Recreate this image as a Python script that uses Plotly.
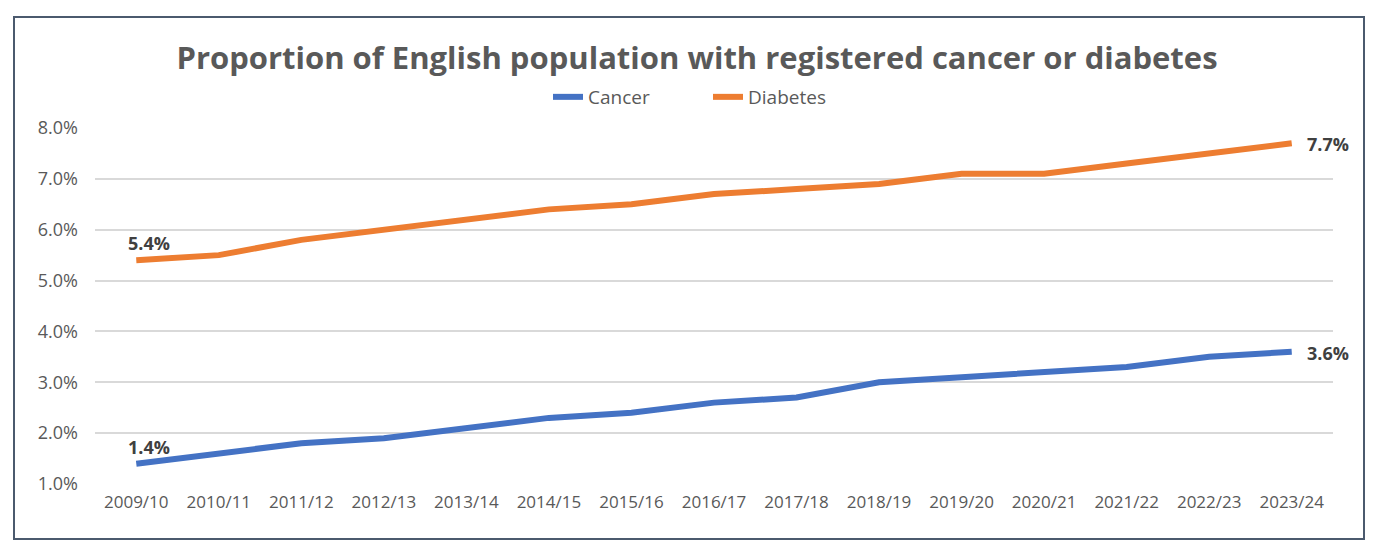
import plotly.graph_objects as go

years = ["2009/10", "2010/11", "2011/12", "2012/13", "2013/14", "2014/15", "2015/16",
         "2016/17", "2017/18", "2018/19", "2019/20", "2020/21", "2021/22", "2022/23", "2023/24"]
cancer = [1.4, 1.6, 1.8, 1.9, 2.1, 2.3, 2.4, 2.6, 2.7, 3.0, 3.1, 3.2, 3.3, 3.5, 3.6]
diabetes = [5.4, 5.5, 5.8, 6.0, 6.2, 6.4, 6.5, 6.7, 6.8, 6.9, 7.1, 7.1, 7.3, 7.5, 7.7]
y_ticks = [1, 2, 3, 4, 5, 6, 7, 8]
y_tick_labels = [f"{v:.1f}%" for v in y_ticks]

FONT = "Open Sans"
LABEL_COLOR = "#404040"
TEXT_COLOR = "#595959"

# The page body has an 8px margin, so the figure is drawn 8px right/down.
L, T = 87, 120
PW, PH = 1238, 356
W, H = 1378, 553

fig = go.Figure()
series = [("Cancer", cancer, "#4472C4"), ("Diabetes", diabetes, "#ED7D31")]
for name, vals, color in series:
    fig.add_trace(go.Scatter(
        x=years, y=vals, name=name, mode="lines",
        line=dict(color=color, width=6),
    ))
    # first-value label, above and slightly right of the first point
    fig.add_annotation(x=years[0], y=vals[0], text=f"<b>{vals[0]:.1f}%</b>",
                       showarrow=False, xanchor="center", yanchor="middle",
                       xshift=13, yshift=17,
                       font=dict(family=FONT, size=18, color=LABEL_COLOR))
    # last-value label, to the right of the last point
    fig.add_annotation(x=years[-1], y=vals[-1], text=f"<b>{vals[-1]:.1f}%</b>",
                       showarrow=False, xanchor="left", yanchor="middle",
                       xshift=13, yshift=-1,
                       font=dict(family=FONT, size=18, color=LABEL_COLOR))

fig.update_layout(
    width=W, height=H,
    margin=dict(l=L, r=W - L - PW, t=T, b=H - T - PH, autoexpand=False),
    paper_bgcolor="white", plot_bgcolor="white",
    title=dict(text="<b>Proportion of English population with registered cancer or diabetes</b>",
               x=0.5, xref="container", xanchor="center",
               y=1 - 50 / H, yref="container", yanchor="middle",
               font=dict(family=FONT, size=31, color=TEXT_COLOR)),
    legend=dict(orientation="h", x=700 / W, xref="container", xanchor="center",
                y=1 - 89 / H, yref="container", yanchor="middle",
                font=dict(family=FONT, size=19, color=TEXT_COLOR),
                itemwidth=30, entrywidth=115, tracegroupgap=0, bgcolor="rgba(0,0,0,0)"),
    xaxis=dict(showgrid=False, showline=False, ticks="", range=[-0.5, len(years) - 0.5],
               ticklabelstandoff=6,
               tickfont=dict(family=FONT, size=17, color=TEXT_COLOR)),
    yaxis=dict(range=[1, 8], tickvals=y_ticks, ticktext=y_tick_labels,
               showgrid=True, gridcolor="#d9d9d9", gridwidth=2, zeroline=False,
               ticks="", ticklabelstandoff=16,
               tickfont=dict(family=FONT, size=18, color=TEXT_COLOR)),
    showlegend=True,
)

# chart border box (figure pixels: left 6, right 1356, top 9, bottom 531)
fig.add_shape(type="rect", xref="paper", yref="paper",
              x0=(6 - L) / PW, x1=(1356 - L) / PW,
              y0=(T + PH - 531) / PH, y1=(T + PH - 9) / PH,
              line=dict(color="#4b5a6e", width=2), fillcolor="rgba(0,0,0,0)", layer="below")

fig.write_html("out.html")
